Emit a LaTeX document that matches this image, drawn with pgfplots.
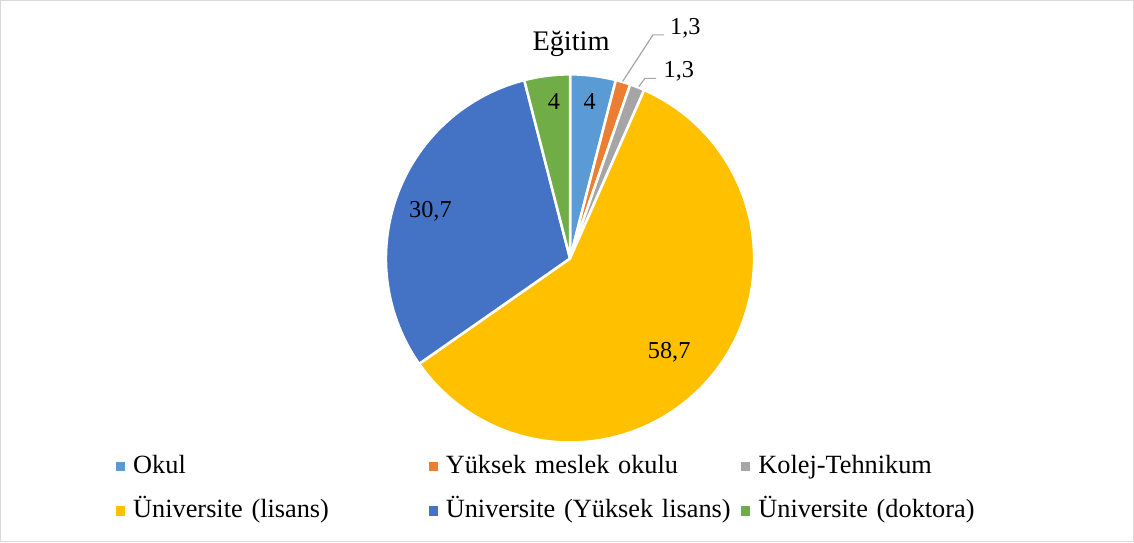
\documentclass[border=0pt]{standalone}
\usepackage{fontspec}
\setmainfont{Liberation Serif}
\usepackage{pgfplots}
\pgfplotsset{compat=1.18}
\definecolor{cA}{HTML}{5B9BD5}
\definecolor{cB}{HTML}{ED7D31}
\definecolor{cC}{HTML}{A5A5A5}
\definecolor{cD}{HTML}{FFC000}
\definecolor{cE}{HTML}{4472C4}
\definecolor{cF}{HTML}{70AD47}
\definecolor{frame}{HTML}{D9D9D9}
\definecolor{lead}{HTML}{A6A6A6}
\begin{document}
\begin{tikzpicture}
% values (percent)
\def\vA{4}\def\vB{1.3}\def\vC{1.3}\def\vD{58.7}\def\vE{30.7}\def\vF{4}
\pgfmathsetmacro{\aA}{90}
\pgfmathsetmacro{\aB}{\aA-3.6*\vA}
\pgfmathsetmacro{\aC}{\aB-3.6*\vB}
\pgfmathsetmacro{\aD}{\aC-3.6*\vC}
\pgfmathsetmacro{\aE}{\aD-3.6*\vD}
\pgfmathsetmacro{\aF}{\aE-3.6*\vE}
\pgfmathsetmacro{\aG}{\aF-3.6*\vF}
\begin{axis}[
  width=1134bp, height=543bp, scale only axis,
  xmin=0, xmax=1134, ymin=0, ymax=543,
  hide axis, clip=false,
  legend columns=3,
  legend cell align=left,
  legend image code/.code={\fill[#1, draw=none] (0bp,-4.5bp) rectangle (9bp,4.5bp);},
  legend style={draw=none, fill=none, at={(axis cs:118,94)}, anchor=north west,
    font=\fontsize{26bp}{32bp}\selectfont,
    nodes={text width=291bp, align=left, text height=19bp, text depth=6bp, inner sep=1bp},
    row sep=17bp,
    /tikz/every odd column/.append style={column sep=7bp},
    /tikz/every even column/.append style={column sep=0bp}},
  pie/.style={draw=white, line width=2.5bp, line join=round, samples=60, variable=\t},
]
\draw[frame, line width=1bp] (axis cs:7,4) rectangle (axis cs:1127,539);
\addplot[pie, fill=cA, domain=\aB:\aA] ({570+182*cos(\t)},{284+182*sin(\t)}) -- (axis cs:570,284) -- cycle;
\addlegendentry{Okul}
\addplot[pie, fill=cB, domain=\aC:\aB] ({570+182*cos(\t)},{284+182*sin(\t)}) -- (axis cs:570,284) -- cycle;
\addlegendentry{Yüksek meslek okulu}
\addplot[pie, fill=cC, domain=\aD:\aC] ({570+182*cos(\t)},{284+182*sin(\t)}) -- (axis cs:570,284) -- cycle;
\addlegendentry{Kolej-Tehnikum}
\addplot[pie, fill=cD, domain=\aE:\aD] ({570+182*cos(\t)},{284+182*sin(\t)}) -- (axis cs:570,284) -- cycle;
\addlegendentry{Üniversite (lisans)}
\addplot[pie, fill=cE, domain=\aF:\aE] ({570+182*cos(\t)},{284+182*sin(\t)}) -- (axis cs:570,284) -- cycle;
\addlegendentry{Üniversite (Yüksek lisans)}
\addplot[pie, fill=cF, domain=\aG:\aF] ({570+182*cos(\t)},{284+182*sin(\t)}) -- (axis cs:570,284) -- cycle;
\addlegendentry{Üniversite (doktora)}
% title
\node[anchor=base, font=\fontsize{28bp}{33bp}\selectfont] at (axis cs:571,490) {Eğitim};
% data labels
\begin{scope}[every node/.style={anchor=base, font=\fontsize{24bp}{28bp}\selectfont}]
\node at (axis cs:589.5,431) {4};
\node at (axis cs:554,431) {4};
\node at (axis cs:684,505) {1,3};
\node at (axis cs:677.5,462.5) {1,3};
\node at (axis cs:668,185) {58,7};
\node at (axis cs:432,324) {30,7};
\end{scope}
\draw[lead, line width=1.2bp] (axis cs:622,459) -- (axis cs:652,505) -- (axis cs:663,505);
\draw[lead, line width=1.2bp] (axis cs:638,454) -- (axis cs:644,462) -- (axis cs:655,462);
\end{axis}
\end{tikzpicture}
\end{document}
